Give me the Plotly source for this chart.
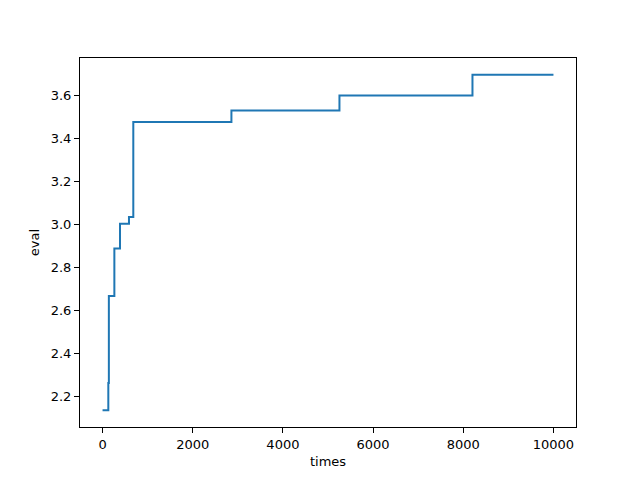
import plotly.graph_objects as go

times = [0, 128, 140, 262, 387, 586, 682, 2858, 5254, 8204, 10000]
evals = [2.135, 2.262, 2.666, 2.888, 3.003, 3.034, 3.476, 3.530, 3.600, 3.696, 3.696]
x_ticks = [0, 2000, 4000, 6000, 8000, 10000]
y_ticks = [2.2, 2.4, 2.6, 2.8, 3.0, 3.2, 3.4, 3.6]

fig = go.Figure()
fig.add_trace(go.Scatter(x=times, y=evals, mode="lines", line_shape="hv",
                         line=dict(color="#1f77b4", width=2)))

axis_common = dict(showgrid=False, zeroline=False, showline=True, linecolor="black",
                   linewidth=1, mirror=True, ticks="outside", ticklen=5, tickwidth=1,
                   tickcolor="black", tickfont=dict(size=13, color="black"))
fig.update_layout(
    width=640, height=480,
    margin=dict(l=80, r=64, t=58, b=53),
    paper_bgcolor="white", plot_bgcolor="white",
    font=dict(family="DejaVu Sans", size=13, color="black"),
    showlegend=False,
    xaxis=dict(range=[-500, 10500], tickvals=x_ticks, ticktext=[str(v) for v in x_ticks],
               title=dict(text="times", standoff=6, font=dict(size=13)), **axis_common),
    yaxis=dict(range=[2.0568, 3.7742], tickvals=y_ticks, ticktext=[f"{v:.1f}" for v in y_ticks],
               title=dict(text="eval", standoff=8, font=dict(size=13)), **axis_common),
)
fig.write_html("out.html", config={"displayModeBar": False},
               post_script="document.body.style.margin='0';")
